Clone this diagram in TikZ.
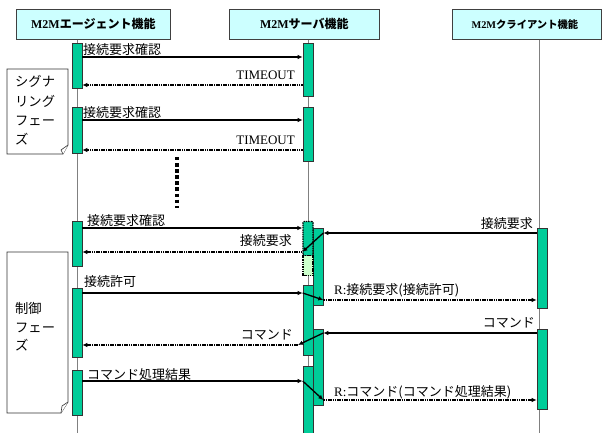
\documentclass[tikz,border=0pt]{standalone}
\usepackage{fontspec}
\setmainfont{Liberation Serif}
\newfontfamily\jp{Noto Sans CJK JP}
\newfontfamily\jpb{Noto Sans CJK JP Bold}
\usetikzlibrary{arrows.meta}
\definecolor{actgreen}{RGB}{0,204,153}
\definecolor{hdrfill}{RGB}{204,255,255}
\definecolor{palegrn}{RGB}{204,255,204}
\definecolor{lifegray}{RGB}{128,128,128}
\tikzset{
  hdr/.style={draw=black!75, fill=hdrfill, line width=0.7pt, inner sep=0pt, anchor=north west},
  act/.style={draw=black!80, fill=actgreen, line width=0.6pt, minimum width=10pt, inner sep=0pt, anchor=north},
  actdash/.style={act, draw=black, dash pattern=on 1.5pt off 0.8pt, line width=1.2pt, rounded corners=1pt},
  life/.style={draw=lifegray, line width=1pt},
  msg/.style={-{Latex[length=5pt,width=4.5pt]}, line width=1.3pt},
  rmsg/.style={msg, dash pattern=on 1.6pt off 0.7pt, line width=1.6pt},
  lbl/.style={font=\jp\fontsize{13}{13}\selectfont, inner sep=0pt},
  ser/.style={font=\fontsize{13}{13}\selectfont, inner sep=0pt},
  note/.style={draw=black!80, fill=white, line width=0.7pt},
  notetxt/.style={font=\jp\fontsize{13.3}{13.3}\selectfont, inner sep=0pt, anchor=base west},
}
\begin{document}
\begin{tikzpicture}[x=1pt,y=-1pt]
\useasboundingbox (0,0) rectangle (603,433);
% headers
\node[hdr, minimum width=154pt, minimum height=30pt] (ha) at (16,9) {};
\node[font=\bfseries\fontsize{12}{12}\selectfont] (hat) at (ha.center) {M2M{\jpb エージェント機能}};
\node[hdr, minimum width=150pt, minimum height=30pt] (hs) at (229,9) {};
\node[font=\bfseries\fontsize{12}{12}\selectfont] (hst) at (hs.center) {M2M{\jpb サーバ機能}};
\node[hdr, minimum width=149pt, minimum height=30pt] (hc) at (452,9) {};
\node[font=\bfseries\fontsize{10.3}{10.3}\selectfont] (hct) at ([xshift=-2pt]hc.center) {M2M{\jpb クライアント機能}};
% lifelines
\coordinate (la) at (77,433);
\coordinate (ls) at (308,433);
\coordinate (lc) at (539,433);
\draw[life] (ha.south -| la) -- (la);
\draw[life] (hs.south -| ls) -- (ls);
\draw[life] (hc.south -| lc) -- (lc);
% agent activations
\node[act, minimum height=45pt] (a1) at (77,43) {};
\node[act, minimum height=46pt] (a2) at (77,107) {};
\node[act, minimum height=45pt] (a3) at (77,221) {};
\node[act, minimum height=69pt] (a4) at (77,288) {};
\node[act, minimum height=45pt] (a5) at (77,370) {};
% server activations
\node[act, minimum height=53pt] (s1) at (308,43) {};
\node[act, minimum height=54pt] (s2) at (308,107) {};
\node[act, minimum height=70pt] (s5) at (308,285) {};
\node[act, minimum height=70pt] (s6) at (308,366) {};
\node[act, minimum height=77pt] (b1) at (318,228) {};
\node[act, minimum height=76pt] (b2) at (318,329) {};
\node[actdash, minimum height=34pt] (s3) at (308,221) {};
\node[actdash, fill=palegrn, minimum height=20pt, rounded corners=0pt] (s4) at (308,255) {};
% client activations
\node[act, minimum height=80pt] (c1) at (542,228) {};
\node[act, minimum height=80pt] (c2) at (542,329) {};
% phase notes
\draw[note] (7,69) -- (68,69) -- (68,145) -- (63,154) -- (7,154) -- cycle;
\draw[note, line width=0.6pt] (68,145) -- (61,150) -- (63,154);
\node[notetxt] (n1a) at (15,87) {シグナ};
\node[notetxt] (n1b) at (15,106.5) {リング};
\node[notetxt] (n1c) at (15,126) {フェー};
\node[notetxt] (n1d) at (15,145) {ズ};
\draw[note] (7,252) -- (68,252) -- (68,402) -- (61,413) -- (7,413) -- cycle;
\draw[note, line width=0.6pt] (68,402) -- (62,406) -- (61,413);
\node[notetxt] (n2a) at (15,313) {制御};
\node[notetxt] (n2b) at (15,332) {フェー};
\node[notetxt] (n2c) at (15,350) {ズ};
% ellipsis
\coordinate (d1) at (177,157);
\coordinate (d2) at (177,208);
\draw[line width=3.5pt, dash pattern=on 3.5pt off 2.6pt] (d1) -- (d2);
% signalling messages
\draw[msg] (a1.east |- 0,57) -- (s1.west |- 0,57);
\node[lbl, anchor=base west] (t1) at (83,54.5) {接続要求確認};
\draw[rmsg] (s1.west |- 0,85) -- (a1.east |- 0,85);
\node[ser, anchor=base east] (t2) at (295,80) {TIMEOUT};
\draw[msg] (a2.east |- 0,120) -- (s2.west |- 0,120);
\node[lbl, anchor=base west] (t3) at (83,117.5) {接続要求確認};
\draw[rmsg] (s2.west |- 0,150) -- (a2.east |- 0,150);
\node[ser, anchor=base east] (t4) at (295,145) {TIMEOUT};
% control messages
\draw[msg] (a3.east |- 0,228) -- (s3.west |- 0,228);
\node[lbl, anchor=base west] (t5) at (87,225.5) {接続要求確認};
\draw[msg] (c1.west |- 0,233) -- (b1.east |- 0,233);
\node[lbl, anchor=base east] (t6) at (533,229) {接続要求};
\draw[msg] (b1.east |- 0,233) -- (s3.west |- 0,252);
\draw[rmsg] (s3.west |- 0,252) -- (a3.east |- 0,252);
\node[lbl, anchor=base east] (t7) at (292,246) {接続要求};
\draw[msg] (a4.east |- 0,293) -- (s5.west |- 0,293);
\node[lbl, anchor=base west] (t8) at (84,287) {接続許可};
\draw[msg] (s5.west |- 0,293) -- (b1.east |- 0,300);
\draw[rmsg] (b1.east |- 0,300) -- (c1.west |- 0,300);
\node[lbl, anchor=base west] (t9) at (334,294) {{\rmfamily R:}接続要求(接続許可)};
\draw[msg] (c2.west |- 0,333) -- (b2.east |- 0,333);
\node[lbl, anchor=base east] (t10) at (535,327) {コマンド};
\coordinate (k1) at (298,345);
\draw[msg] (b2.east |- 0,333) -- (k1);
\draw[rmsg] (k1) -- (a4.east |- 0,345);
\node[lbl, anchor=base east] (t11) at (293,339) {コマンド};
\draw[msg] (a5.east |- 0,381) -- (s6.west |- 0,381);
\node[lbl, anchor=base west] (t12) at (87,379) {コマンド処理結果};
\draw[msg] (s6.west |- 0,381) -- (b2.east |- 0,400);
\draw[rmsg] (b2.east |- 0,400) -- (c2.west |- 0,400);
\node[lbl, anchor=base west] (t13) at (334,396) {{\rmfamily R:}コマンド(コマンド処理結果)};
\end{tikzpicture}
\end{document}
